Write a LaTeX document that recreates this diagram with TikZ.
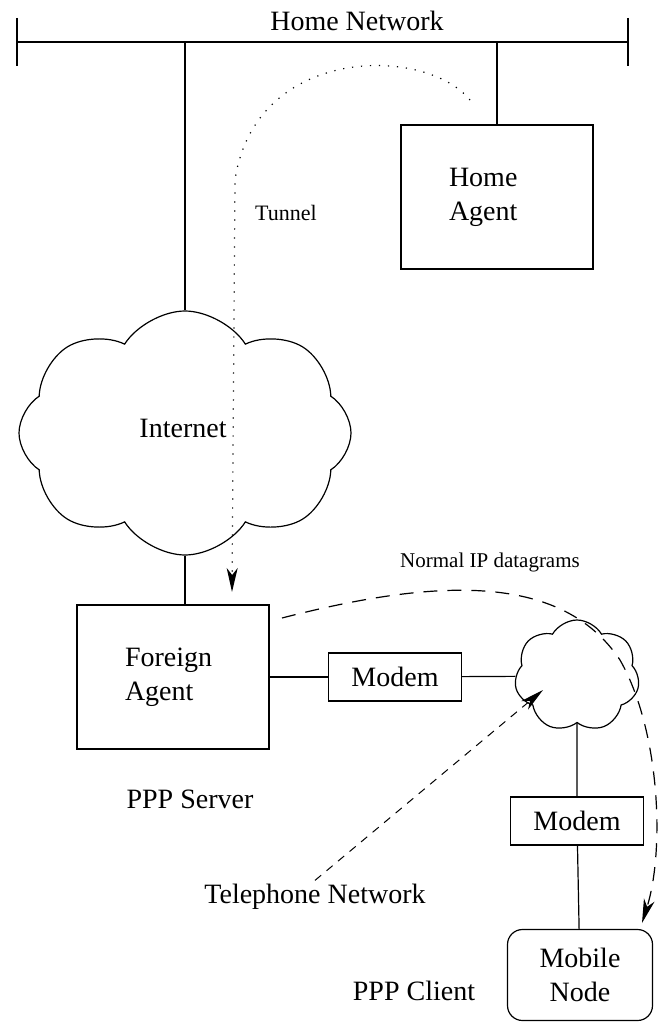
\documentclass[tikz,border=0pt]{standalone}
\usepackage{fontspec}
\setmainfont{Liberation Serif}
\usetikzlibrary{shapes.symbols,arrows.meta}

\begin{document}
\begin{tikzpicture}[x=1pt,y=-1pt,line width=1.2pt,
    bigtext/.style={font=\fontsize{28}{34}\selectfont},
    smalltext/.style={font=\fontsize{21}{25}\selectfont},
    agentbox/.style={draw,bigtext,minimum width=192pt,minimum height=144pt,
        text width=96pt,align=left,inner sep=0pt},
    modembox/.style={draw,bigtext,minimum width=133pt,minimum height=48pt,inner sep=0pt},
    netcloud/.style={draw,cloud,cloud ignores aspect,inner sep=0pt},
    tiparrow/.style={-{Stealth[length=24pt,width=11pt,inset=7pt]}},
    tunneldots/.style={dash pattern=on 1.2pt off 7.8pt},
    datadash/.style={dash pattern=on 14pt off 10pt},
    phonedash/.style={dash pattern=on 8pt off 7pt,line width=1pt}
]
    \useasboundingbox (0,0) rectangle (657,1022);

    % Home network bus
    \coordinate (hnL) at (17,42);
    \coordinate (hnR) at (628,42);
    \draw (hnL) -- (hnR);
    \draw ([yshift=24pt]hnL) -- ([yshift=-24pt]hnL);
    \draw ([yshift=24pt]hnR) -- ([yshift=-24pt]hnR);
    \node[bigtext] (hnet) at (357,21) {Home Network};

    % Agents, clouds and modems
    \node[agentbox] (ha) at (497,197) {Home\\Agent};
    \node[netcloud,cloud puffs=8,cloud puff arc=115,minimum width=332pt,minimum height=244pt]
        (internet) at (185,433) {};
    \node[bigtext] (inettext) at (183,428) {Internet};
    \node[agentbox] (fa) at (173,677) {Foreign\\Agent};
    \node[modembox] (modemA) at (395,677) {Modem};
    \node[netcloud,cloud puffs=7,cloud puff arc=120,minimum width=125pt,minimum height=112pt]
        (phone) at (577,676) {};
    \node[modembox] (modemB) at (577,821) {Modem};
    \node[draw,bigtext,rounded corners=15pt,minimum width=145pt,minimum height=91pt,
        align=center,inner sep=0pt] (mobile) at (580,975) {Mobile\\Node};

    % Links
    \draw (hnL -| internet) -- (internet);
    \draw (hnL -| ha) -- (ha);
    \draw (internet) -- (internet |- fa.north);
    \draw (fa) -- (modemA);
    \draw (modemA) -- (phone);
    \draw (phone) -- (modemB) -- (mobile);

    % Labels
    \node[bigtext] (server) at (190,799) {PPP Server};
    \node[bigtext] (telnet) at (315,897) {Telephone Network};
    \node[bigtext] (client) at (414,991) {PPP Client};
    \node[font=\fontsize{22}{26}\selectfont] (tunnel) at (286,213) {Tunnel};
    \node[smalltext] (normal) at (490,562) {Normal IP datagrams};

    % Tunnel and datagram paths
    \coordinate (tunStart) at (470,100);
    \coordinate (tunEnd) at (232,592);
    \draw[tunneldots,tiparrow] (tunStart) .. controls (425,45) and (255,45) .. (235,180) -- (tunEnd);

    \coordinate (ipStart) at (282,618);
    \coordinate (ipMid) at (620,660);
    \coordinate (ipEnd) at (642,923);
    \draw[datadash,tiparrow] (ipStart) .. controls (430,580) and (560,570) .. (ipMid)
        .. controls (660,730) and (665,850) .. (ipEnd);

    \coordinate (phoneTip) at (543,690);
    \draw[phonedash,tiparrow] (telnet.north) -- (phoneTip);
\end{tikzpicture}
\end{document}
